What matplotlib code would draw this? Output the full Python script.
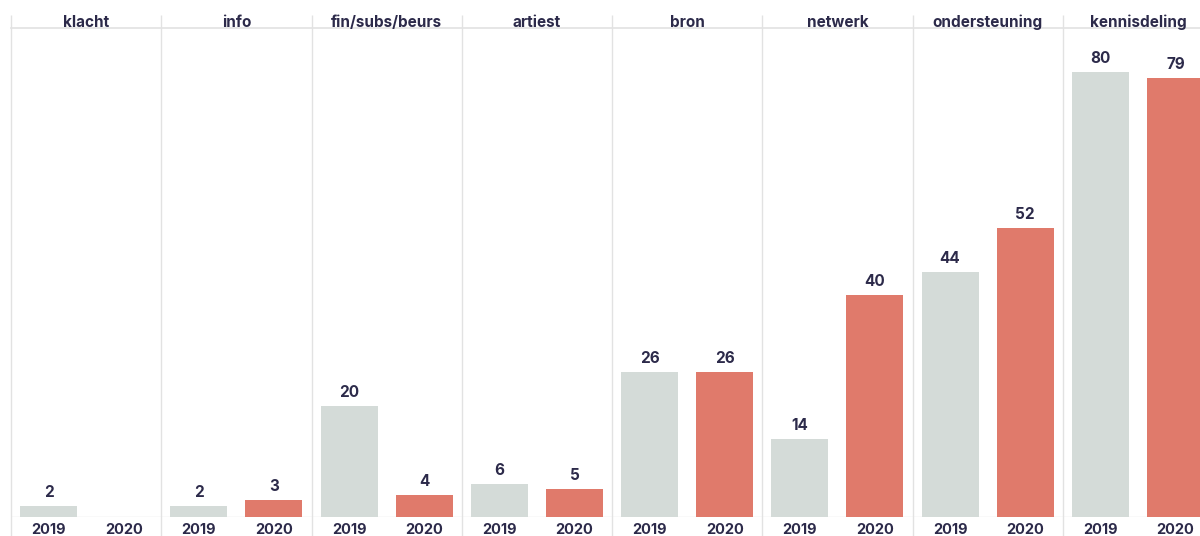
import numpy as np
import matplotlib
matplotlib.use("Agg")
import matplotlib.pyplot as plt

categories = ["klacht", "info", "fin/subs/beurs", "artiest", "bron", "netwerk", "ondersteuning", "kennisdeling"]
years = ["2019", "2020"]
values_2019 = [2, 2, 20, 6, 26, 14, 44, 80]
values_2020 = [np.nan, 3, 4, 5, 26, 40, 52, 79]

grey = "#d4dbd8"
salmon = "#e07a6b"
navy = "#2c2a4a"
line_c = "#e2e2e2"
font = ["Inter", "DejaVu Sans"]

W, H = 1200, 536
fig = plt.figure(figsize=(W / 100, H / 100), dpi=100)
base_px, top_px, left_px = 517, 28, 11
ax = fig.add_axes([left_px / W, (H - base_px) / H, 1202 / W, (base_px - top_px) / H])
ax.set_xlim(0, 2 * len(categories))
ax.set_ylim(0, 87.95)
for s in ax.spines.values():
    s.set_visible(False)
ax.set_xticks([])
ax.set_yticks([])

n = len(categories)
x19 = np.arange(n) * 2 + 0.5
x20 = np.arange(n) * 2 + 1.5
bw = 57 / 75
ax.bar(x19, values_2019, width=bw, color=grey, zorder=2)
ax.bar(x20, np.nan_to_num(values_2020), width=bw, color=salmon, zorder=2)

ax.axhline(0, color=line_c, lw=1, zorder=1)
ax.axhline(87.95, color=line_c, lw=1.2, zorder=1, clip_on=False)
ax.vlines(np.arange(n) * 2, -0.04, 1.027, transform=ax.get_xaxis_transform(),
          color=line_c, lw=1, clip_on=False, zorder=1)

ppu = (base_px - top_px) / 87.95
off = 13.5 / ppu
for xs, vals in ((x19, values_2019), (x20, values_2020)):
    for x, v in zip(xs, vals):
        if np.isnan(v):
            continue
        ax.text(x, v + off, f"{v:g}", ha="center", va="center", fontsize=11,
                fontweight="bold", color=navy, family=font)

for i in range(n):
    ax.text(x19[i], -0.0266, years[0], transform=ax.get_xaxis_transform(), ha="center", va="center",
            fontsize=10.5, fontweight="bold", color=navy, family=font, clip_on=False)
    ax.text(x20[i], -0.0266, years[1], transform=ax.get_xaxis_transform(), ha="center", va="center",
            fontsize=10.5, fontweight="bold", color=navy, family=font, clip_on=False)
    ax.text(i * 2 + 1, 1.002, categories[i], transform=ax.get_xaxis_transform(), ha="center",
            va="baseline", fontsize=11, fontweight="bold", color=navy, family=font, clip_on=False)

fig.savefig("out.png", dpi=100)
